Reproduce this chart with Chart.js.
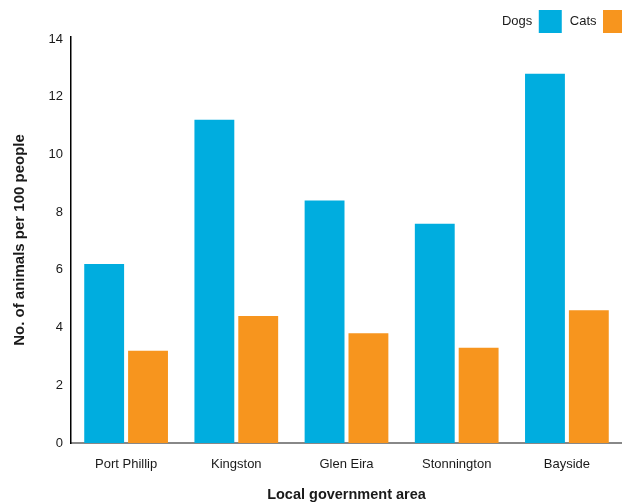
<!DOCTYPE html>
<html>
<head>
<meta charset="utf-8">
<script src="https://cdn.jsdelivr.net/npm/chart.js@4"></script>
<style>
  html, body { margin: 0; padding: 0; background: #fff; }
  #wrap { width: 622px; height: 504px; overflow: hidden; }
</style>
</head>
<body>
<div id="wrap"><canvas id="c" width="622" height="504"></canvas></div>
<script>
// Pet ownership by local government area
const areas = ['Port Phillip', 'Kingston', 'Glen Eira', 'Stonnington', 'Bayside'];
const dogs = [6.2, 11.2, 8.4, 7.6, 12.8];
const cats = [3.2, 4.4, 3.8, 3.3, 4.6];
const yTicks = [0, 2, 4, 6, 8, 10, 12, 14];

const FONT = "'Liberation Sans', Arial, Helvetica, sans-serif";
const TEXT = '#1a1a1a';

// Compact legend block, tucked into the top-right corner
const legendTweak = {
  id: 'legendTweak',
  beforeLayout(chart) {
    const lg = chart.legend;
    if (lg && !lg.__compact) {
      const fit = lg.fit.bind(lg);
      lg.fit = function () { fit(); this.height = 37; };
      lg.__compact = true;
    }
  },
  afterLayout(chart) {
    const lg = chart.legend;
    if (lg) {
      lg.left += 12; lg.right += 12;
      lg.top += 2; lg.bottom += 2;
    }
  }
};

new Chart(document.getElementById('c'), {
  type: 'bar',
  data: {
    labels: areas,
    datasets: [
      { label: 'Dogs', data: dogs, backgroundColor: '#00ADDF' },
      { label: 'Cats', data: cats, backgroundColor: '#F7951E' }
    ]
  },
  plugins: [legendTweak],
  options: {
    responsive: false,
    animation: false,
    layout: { padding: { top: 0, right: 0, bottom: 0, left: 4 } },
    datasets: {
      bar: { categoryPercentage: 0.796, barPercentage: 0.909 }
    },
    plugins: {
      tooltip: { enabled: false },
      legend: {
        position: 'top',
        align: 'start',
        rtl: true,
        reverse: true,
        labels: {
          boxWidth: 23,
          boxHeight: 23,
          padding: 8,
          color: TEXT,
          font: { family: FONT, size: 13 }
        }
      }
    },
    scales: {
      x: {
        grid: { display: false, drawTicks: false },
        border: { display: true, color: '#888888', width: 2 },
        ticks: { color: TEXT, padding: 14, font: { family: FONT, size: 13 } },
        title: {
          display: true,
          text: 'Local government area',
          color: TEXT,
          padding: { top: 0, bottom: 0 },
          font: { family: FONT, size: 14.5, weight: 'bold' }
        }
      },
      y: {
        min: 0,
        max: 14.07,
        afterBuildTicks: (axis) => { axis.ticks = yTicks.map(v => ({ value: v })); },
        afterFit: (axis) => { axis.width = 67; },
        grid: { display: false, drawTicks: false },
        border: { display: true, color: '#000000', width: 1.5 },
        ticks: { color: TEXT, padding: 8, font: { family: FONT, size: 13 } },
        title: {
          display: true,
          text: 'No. of animals per 100 people',
          color: TEXT,
          padding: { top: 7, bottom: 2 },
          font: { family: FONT, size: 15, weight: 'bold' }
        }
      }
    }
  }
});
</script>
</body>
</html>
